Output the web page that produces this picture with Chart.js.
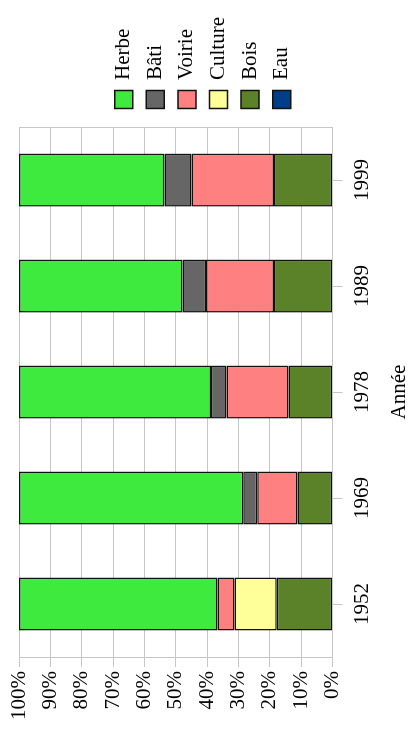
<!DOCTYPE html>
<html>
<head>
<meta charset="utf-8">
<script src="https://cdn.jsdelivr.net/npm/chart.js@4"></script>
<style>
    html, body { margin: 0; padding: 0; background: #fff; overflow: hidden; }
    #wrap {
        position: absolute;
        left: 0;
        top: 729px;
        width: 729px;
        height: 414px;
        transform-origin: 0 0;
        transform: rotate(-90deg);
    }
</style>
</head>
<body>
<div id="wrap"><canvas id="chart" width="729" height="414"></canvas></div>
<script>
// Années (catégories) et parts de chaque occupation du sol, en %
const annees = ['1952', '1969', '1978', '1989', '1999'];
const eau = [0, 0, 0, 0, 0];
const bois = [17.8, 11.2, 14.1, 18.7, 18.7];
const culture = [13.5, 0, 0, 0, 0];
const voirie = [5.4, 12.8, 19.7, 21.7, 26.3];
const bati = [0, 4.5, 5.0, 7.5, 8.6];
const herbe = [63.3, 71.5, 61.2, 52.1, 46.4];
const pourcentTicks = [0, 10, 20, 30, 40, 50, 60, 70, 80, 90, 100];

const gris = '#c6c6c6';

Chart.defaults.font.family = "'Liberation Serif', 'Times New Roman', serif";
Chart.defaults.font.size = 21;
Chart.defaults.color = '#000';

function serie(label, data, couleur) {
    return {
        label: label,
        data: data,
        backgroundColor: couleur,
        borderColor: '#111',
        borderWidth: 1.5,
        borderSkipped: false,
        barPercentage: 0.5,
        categoryPercentage: 1
    };
}

new Chart(document.getElementById('chart'), {
    type: 'bar',
    data: {
        labels: annees,
        datasets: [
            serie('Eau', eau, '#003f87'),
            serie('Bois', bois, '#5b8228'),
            serie('Culture', culture, '#ffff99'),
            serie('Voirie', voirie, '#ff8080'),
            serie('Bâti', bati, '#666666'),
            serie('Herbe', herbe, '#3eea3e')
        ]
    },
    options: {
        responsive: false,
        animation: false,
        devicePixelRatio: 1,
        layout: { padding: { top: 19, left: 5, right: 7, bottom: 2 } },
        scales: {
            x: {
                stacked: true,
                grid: { offset: false, drawOnChartArea: false, color: gris, tickLength: 10 },
                border: { color: gris },
                ticks: { padding: 7, maxRotation: 0 },
                title: { display: true, text: 'Année', padding: { top: 5, bottom: 0 } }
            },
            y: {
                stacked: true,
                min: 0,
                max: 100,
                afterBuildTicks: (axis) => { axis.ticks = pourcentTicks.map(v => ({ value: v })); },
                grid: { color: gris, tickLength: 10 },
                border: { color: gris },
                ticks: { padding: 4, callback: (v) => v + '%' }
            },
            y2: {
                position: 'right',
                min: 0,
                max: 100,
                grid: { display: false },
                border: { display: true, color: gris },
                ticks: { display: false }
            }
        },
        plugins: {
            tooltip: { enabled: false },
            legend: {
                position: 'right',
                reverse: true,
                align: 'start',
                // titre vide : sert seulement à descendre la légende
                title: { display: true, text: '', font: { size: 10 }, padding: { top: 71.6, bottom: 0 } },
                labels: {
                    boxWidth: 18,
                    boxHeight: 18,
                    padding: 10.6,
                    color: '#000'
                }
            }
        }
    }
});
</script>
</body>
</html>
